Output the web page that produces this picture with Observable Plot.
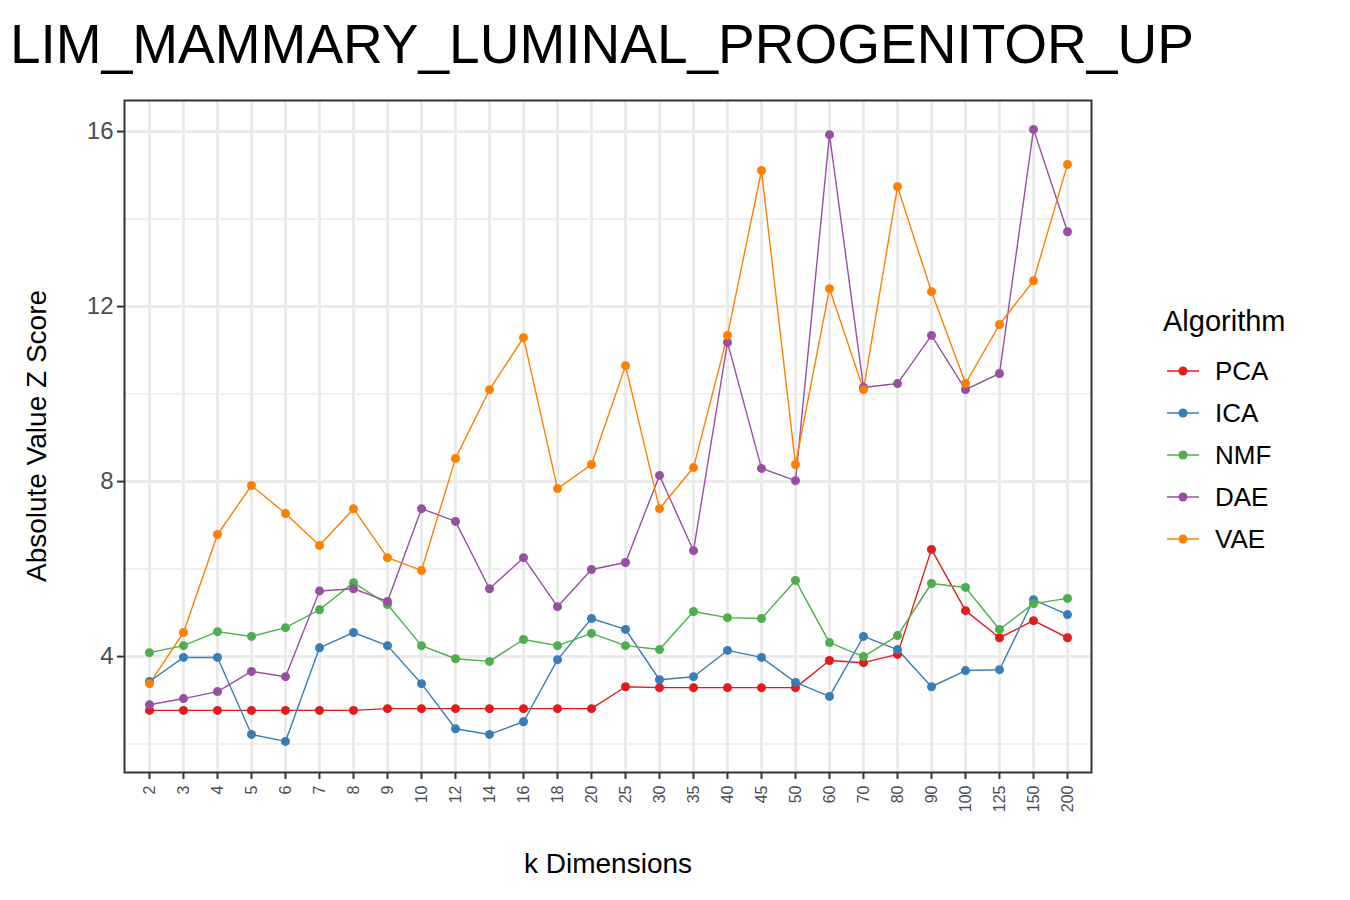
<!DOCTYPE html>
<html><head><meta charset="utf-8">
<script src="https://cdn.jsdelivr.net/npm/d3@7"></script>
<script src="https://cdn.jsdelivr.net/npm/@observablehq/plot@0.6"></script>
<style>
body{margin:0;background:#fff;font-family:Arial,"Liberation Sans",sans-serif;width:1350px;height:900px;position:relative;overflow:hidden}
#title{position:absolute;left:10px;top:14px;font-size:55px;line-height:60px}
#chart{position:absolute;left:0;top:90px}
#ylab{position:absolute;left:37px;top:436px;font-size:28px;transform:translate(-50%,-50%) rotate(-90deg);white-space:nowrap}
#legend{position:absolute;left:1163px;top:305px;font-size:29px}
.li{display:flex;align-items:center;height:42px;font-size:26px}
.li svg{margin-right:12px}
</style></head><body>
<div id="title">LIM_MAMMARY_LUMINAL_PROGENITOR_UP</div>
<div id="chart"></div>
<div id="ylab">Absolute Value Z Score</div>
<div id="legend"></div>
<script>
const dims = ['2','3','4','5','6','7','8','9','10','12','14','16','18','20','25','30','35','40','45','50','60','70','80','90','100','125','150','200']
const algos = ['PCA','ICA','NMF','DAE','VAE']
const colors = ['#E41A1C','#377EB8','#4DAF4A','#984EA3','#FF7F00']
const pca = [2.77,2.77,2.77,2.77,2.77,2.77,2.77,2.81,2.81,2.81,2.81,2.81,2.81,2.81,3.31,3.29,3.29,3.29,3.29,3.29,3.91,3.86,4.05,6.45,5.05,4.43,4.82,4.43]
const ica = [3.43,3.98,3.98,2.22,2.06,4.2,4.55,4.25,3.38,2.35,2.22,2.51,3.93,4.87,4.62,3.47,3.54,4.14,3.98,3.41,3.09,4.46,4.16,3.31,3.68,3.7,5.3,4.96]
const nmf = [4.09,4.25,4.57,4.46,4.66,5.07,5.69,5.19,4.25,3.95,3.89,4.39,4.25,4.53,4.25,4.16,5.03,4.89,4.87,5.74,4.32,4.0,4.48,5.67,5.58,4.62,5.21,5.33]
const dae = [2.9,3.04,3.2,3.66,3.54,5.5,5.55,5.26,7.38,7.09,5.55,6.26,5.14,5.99,6.15,8.14,6.42,11.18,8.3,8.02,15.93,10.15,10.24,11.34,10.1,10.47,16.05,13.71]
const vae = [3.38,4.55,6.79,7.91,7.27,6.54,7.38,6.26,5.97,8.53,10.1,11.29,7.84,8.39,10.65,7.38,8.32,11.34,15.11,8.39,12.41,10.1,14.74,12.34,10.24,11.59,12.59,15.25]

const series = [pca, ica, nmf, dae, vae]
const data = []
algos.forEach((a, i) => series[i].forEach((v, j) => data.push({algo: a, k: dims[j], z: v})))

const chart = Plot.plot({
  width: 1350, height: 810,
  marginTop: 10, marginLeft: 124, marginRight: 259, marginBottom: 128,
  style: {fontFamily: 'Arial, "Liberation Sans", sans-serif', fontSize: 22},
  x: {type: 'point', domain: dims, padding: 0.5, label: null},
  y: {domain: [1.35, 16.71], label: null},
  color: {domain: algos, range: colors},
  marks: [
    Plot.ruleY([2, 6, 10, 14], {stroke: '#ebebeb', strokeWidth: 1.5}),
    Plot.ruleY([4, 8, 12, 16], {stroke: '#ebebeb', strokeWidth: 3}),
    Plot.ruleX(dims, {stroke: '#ebebeb', strokeWidth: 3}),
    Plot.frame({stroke: '#333', strokeWidth: 2}),
    Plot.axisY({ticks: [4, 8, 12, 16], tickSize: 7, fontSize: 24, fill: '#4d4d4d', stroke: '#333', strokeWidth: 2, tickPadding: 4, label: null}),
    Plot.axisX({tickSize: 7, tickRotate: -90, fontSize: 16, fill: '#4d4d4d', stroke: '#333', strokeWidth: 2, tickPadding: 6, label: null}),
    Plot.line(data, {x: 'k', y: 'z', stroke: 'algo', strokeWidth: 1.4}),
    Plot.dot(data, {x: 'k', y: 'z', fill: 'algo', r: 4.5}),
    Plot.text(['k Dimensions'], {frameAnchor: 'bottom', dy: 100, fontSize: 28, fill: '#000'})
  ]
})
d3.select('#chart').append(() => chart)

const leg = d3.select('#legend')
leg.append('div').text('Algorithm').style('margin-bottom', '12px')
algos.forEach((a, i) => {
  const row = leg.append('div').attr('class', 'li')
  const s = row.append('svg').attr('width', 40).attr('height', 20)
  s.append('line').attr('x1', 4).attr('x2', 36).attr('y1', 10).attr('y2', 10).attr('stroke', colors[i]).attr('stroke-width', 1.5)
  s.append('circle').attr('cx', 20).attr('cy', 10).attr('r', 4.5).attr('fill', colors[i])
  row.append('span').text(a)
})
</script>
</body></html>
